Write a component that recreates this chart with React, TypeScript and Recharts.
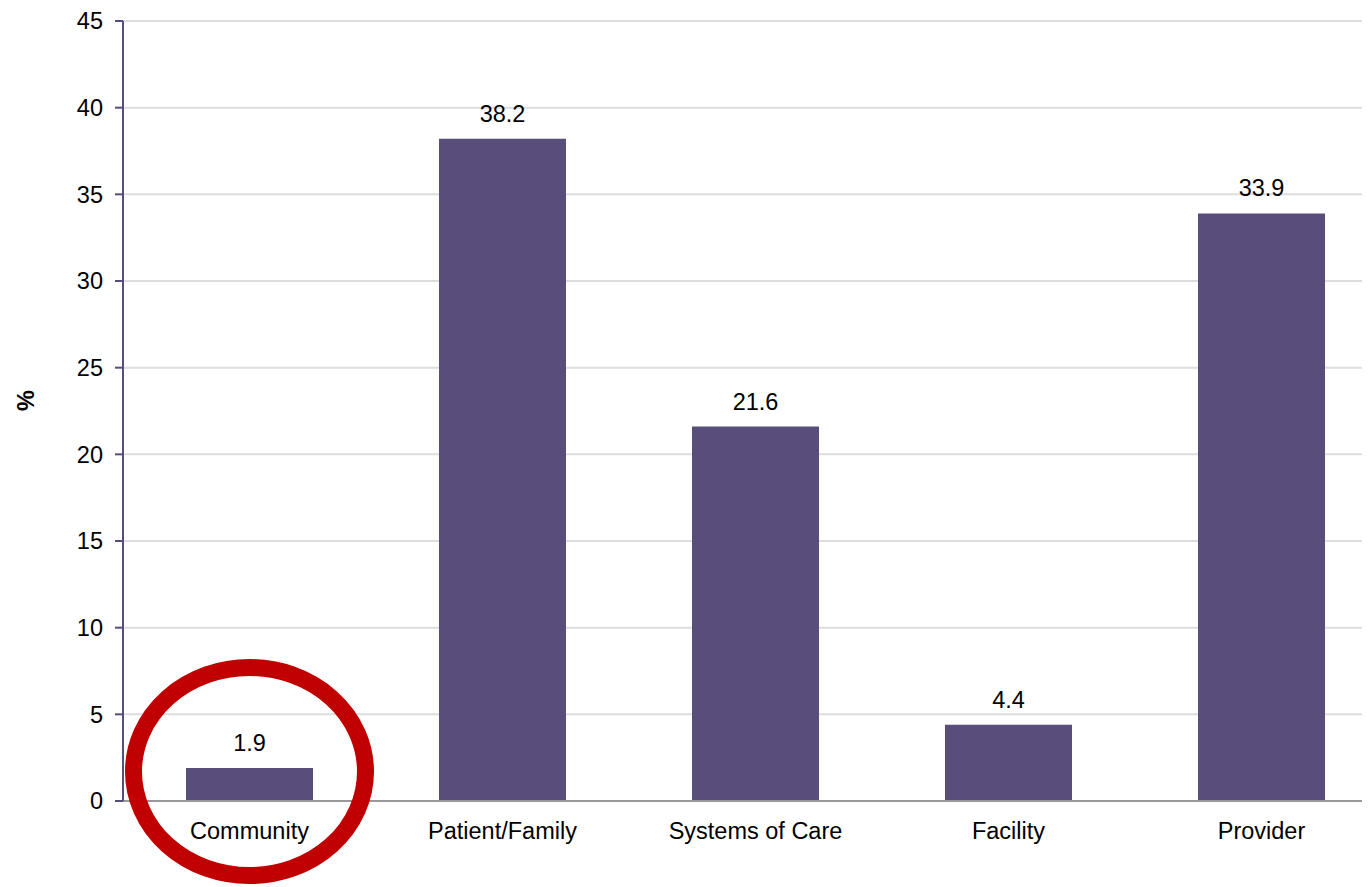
import { Bar, BarChart, CartesianGrid, LabelList, ReferenceDot, XAxis, YAxis } from "recharts";

const CATEGORIES = ["Community", "Patient/Family", "Systems of Care", "Facility", "Provider"];
const PERCENTS = [1.9, 38.2, 21.6, 4.4, 33.9];
const Y_TICKS = [0, 5, 10, 15, 20, 25, 30, 35, 40, 45];
const BOUNDARY_TICKS = [0, 1, 2, 3, 4, 5];

const BAR_COLOR = "#594D7C";
const FONT = "'Liberation Sans', Arial, sans-serif";
const FS = 23.5;

const data = CATEGORIES.map((name, i) => ({ name, value: PERCENTS[i] }));

function Ellipse(props: { cx?: number; cy?: number }) {
  const { cx = 0, cy = 0 } = props;
  return <ellipse cx={cx} cy={cy} rx={116} ry={104} fill="none" stroke="#C00000" strokeWidth={17} />;
}

export default function App() {
  return (
    <div style={{ width: 1362, height: 879, overflow: "hidden", fontFamily: FONT }}>
      <BarChart width={1400} height={879} data={data} margin={{ top: 13, right: 20, left: 0, bottom: 45 }}>
        <CartesianGrid xAxisId="cat" vertical={false} stroke="#dddddd" strokeWidth={2} />
        <XAxis
          xAxisId="bounds"
          type="number"
          domain={[0, 5]}
          ticks={BOUNDARY_TICKS}
          tick={false}
          height={1}
          tickSize={8}
          axisLine={{ stroke: "#999999", strokeWidth: 2 }}
          tickLine={{ stroke: "#999999", strokeWidth: 2 }}
        />
        <XAxis
          xAxisId="cat"
          dataKey="name"
          interval={0}
          height={40}
          axisLine={false}
          tickLine={false}
          tickMargin={14}
          tick={{ fill: "#000", fontSize: FS, fontFamily: FONT }}
        />
        <YAxis
          domain={[0, 45]}
          ticks={Y_TICKS}
          width={115}
          interval={0}
          tickSize={8}
          tickMargin={12}
          axisLine={{ stroke: BAR_COLOR, strokeWidth: 2 }}
          tickLine={{ stroke: BAR_COLOR, strokeWidth: 2 }}
          tick={{ fill: "#000", fontSize: FS, fontFamily: FONT }}
          label={{
            value: "%",
            angle: -90,
            position: "insideLeft",
            offset: 18,
            style: { fill: "#000", fontSize: FS, fontWeight: "bold", fontFamily: FONT },
          }}
        />
        <Bar xAxisId="cat" dataKey="value" fill={BAR_COLOR} barSize={127} isAnimationActive={false}>
          <LabelList dataKey="value" position="top" offset={17} style={{ fill: "#000", fontSize: FS, fontFamily: FONT }} />
        </Bar>
        <ReferenceDot xAxisId="cat" x="Community" y={1.7} shape={<Ellipse />} ifOverflow="visible" />
      </BarChart>
    </div>
  );
}
